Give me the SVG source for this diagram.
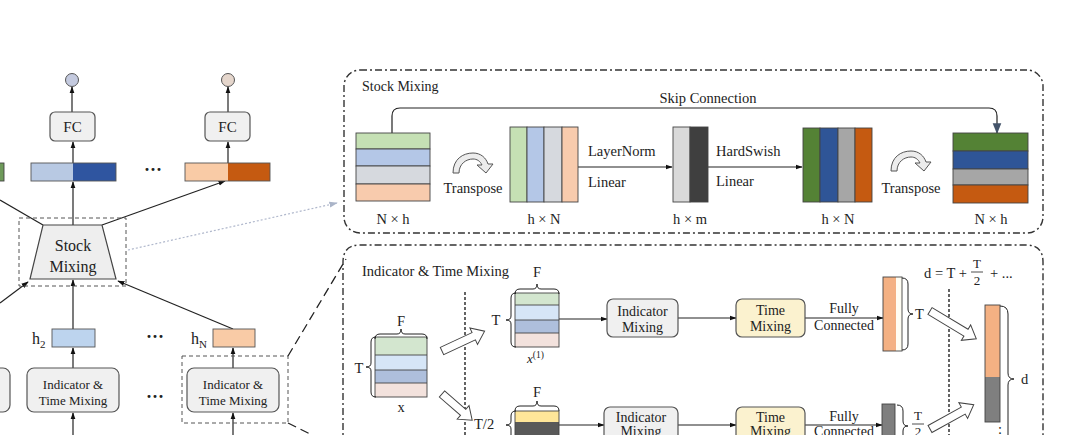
<svg xmlns="http://www.w3.org/2000/svg" width="1080" height="435" viewBox="0 0 1080 435">
<defs>
<style>
text{font-family:"Liberation Serif","Times New Roman",serif;fill:#222;font-size:14.5px;}
.c{text-anchor:middle;}
.box{fill:#f0f0f0;stroke:#555;stroke-width:1.2;}
.ln{stroke:#222;stroke-width:1.2;fill:none;}
.cell{stroke:#444;stroke-width:0.9;}
.hol{fill:#fff;stroke:#444;stroke-width:1;}
.br{fill:none;stroke:#222;stroke-width:1;}
.panel{fill:none;stroke:#333;stroke-width:1.4;stroke-dasharray:7 3 2 3;}
.vd{stroke:#111;stroke-width:1.3;stroke-dasharray:3 2;}
.dash{fill:none;stroke:#555;stroke-width:1;stroke-dasharray:4 3;}
</style>
<marker id="ah" viewBox="0 0 10 10" refX="9" refY="5" markerWidth="6" markerHeight="6" orient="auto"><path d="M0,1.5 L10,5 L0,8.5 Z" fill="#111"/></marker>
<marker id="ahb" viewBox="0 0 10 10" refX="9" refY="5" markerWidth="9" markerHeight="9" orient="auto"><path d="M0,1 L10,5 L0,9 Z" fill="#44546a"/></marker>
<marker id="ahg" viewBox="0 0 10 10" refX="9" refY="5" markerWidth="7" markerHeight="7" orient="auto"><path d="M0,1.5 L10,5 L0,8.5 Z" fill="#aab4c8"/></marker>
<path id="trans" d="M0,20 C0,6 10,0 20,0 C28,0 33,5 35,11 L40,11 L33,20 L24,12 L29,12 C27,8 24,6 20,6 C13,6 6,11 6,20 Z"/>
</defs>

<!-- connectors -->
<g id="connectors">
<line class="ln" x1="72" y1="112" x2="72" y2="87" marker-end="url(#ah)"/>
<line class="ln" x1="228" y1="112" x2="228" y2="87" marker-end="url(#ah)"/>
<line class="ln" x1="73" y1="225" x2="73" y2="182" marker-end="url(#ah)"/>
<line class="ln" x1="73" y1="163" x2="73" y2="142" marker-end="url(#ah)"/>
<line class="ln" x1="228" y1="163" x2="228" y2="142" marker-end="url(#ah)"/>
<line class="ln" x1="102" y1="225" x2="225" y2="181" marker-end="url(#ah)"/>
<line class="ln" x1="43" y1="225" x2="0" y2="200"/>
<line class="ln" x1="73" y1="329" x2="73" y2="280" marker-end="url(#ah)"/>
<line class="ln" x1="233" y1="329" x2="118" y2="281" marker-end="url(#ah)"/>
<line class="ln" x1="0" y1="303" x2="28" y2="282" marker-end="url(#ah)"/>
<line class="ln" x1="73" y1="368" x2="73" y2="348" marker-end="url(#ah)"/>
<line class="ln" x1="233" y1="368" x2="233" y2="348" marker-end="url(#ah)"/>
<line class="ln" x1="73" y1="435" x2="73" y2="413" marker-end="url(#ah)"/>
<line class="ln" x1="233" y1="435" x2="233" y2="413" marker-end="url(#ah)"/>
<line x1="128" y1="250" x2="337" y2="203" stroke="#b0b8cc" stroke-width="1.2" stroke-dasharray="2 2" marker-end="url(#ahg)"/>
<line x1="288" y1="356" x2="346" y2="259" stroke="#222" stroke-width="1.3" stroke-dasharray="9 5"/>
<line x1="288" y1="423" x2="312" y2="435" stroke="#222" stroke-width="1.3" stroke-dasharray="9 5"/>
<path class="ln" d="M392,133 V116 Q392,108 400,108 H989 Q997,108 997,116 V133" stroke="#444" marker-end="url(#ahb)"/>
<line class="ln" x1="578" y1="167" x2="672" y2="167" marker-end="url(#ah)"/>
<line class="ln" x1="708" y1="167" x2="802" y2="167" marker-end="url(#ah)"/>
<line class="ln" x1="559" y1="319" x2="607" y2="319" marker-end="url(#ah)"/>
<line class="ln" x1="678" y1="318" x2="736" y2="318" marker-end="url(#ah)"/>
<line class="ln" x1="805" y1="318" x2="883" y2="318" marker-end="url(#ah)"/>
<line class="ln" x1="559" y1="425" x2="604" y2="425" marker-end="url(#ah)"/>
<line class="ln" x1="678" y1="425" x2="736" y2="425" marker-end="url(#ah)"/>
<line class="ln" x1="805" y1="425" x2="882" y2="425" marker-end="url(#ah)"/>
</g>

<!-- left column -->
<g id="out1"><circle cx="72" cy="80" r="6.5" fill="#c4cadf" stroke="#555"/></g>
<g id="out2"><circle cx="228" cy="80" r="6.5" fill="#e5d6cc" stroke="#555"/></g>
<g id="fc1"><rect class="box" x="50" y="112" width="45" height="29" rx="5"/><text class="c" x="72.5" y="132" style="font-size:15px">FC</text></g>
<g id="fc2"><rect class="box" x="205" y="112" width="45" height="29" rx="5"/><text class="c" x="227.5" y="132" style="font-size:15px">FC</text></g>
<g id="bar0"><rect x="-2" y="163" width="6" height="18" fill="#6e9a5a" stroke="#444" stroke-width="0.9"/></g>
<g id="bar1"><rect x="31" y="163" width="42" height="18" fill="#b8c9e3"/><rect x="73" y="163" width="43" height="18" fill="#2f55a0"/><rect x="31" y="163" width="85" height="18" fill="none" stroke="#555" stroke-width="0.9"/></g>
<g id="bar2"><rect x="185" y="163" width="43" height="18" fill="#f9cba6"/><rect x="228" y="163" width="42" height="18" fill="#c55a11"/><rect x="185" y="163" width="85" height="18" fill="none" stroke="#555" stroke-width="0.9"/></g>
<g id="dots1"><text class="c" x="153" y="176" style="font-size:18px;font-weight:bold">···</text></g>
<g id="stockmix">
<rect class="dash" x="19" y="218" width="107" height="68"/>
<path d="M43,225 L102,225 L116,279 L30,279 Z" fill="#eeeeee" stroke="#444" stroke-width="1.2"/>
<text class="c" x="73" y="251" style="font-size:16px">Stock</text>
<text class="c" x="73" y="272" style="font-size:16px">Mixing</text>
</g>
<g id="h2"><rect x="52" y="329" width="43" height="18" fill="#bdd4ee" stroke="#555" stroke-width="0.9"/><text x="32" y="344" style="font-size:16px">h<tspan style="font-size:11px" dy="4">2</tspan></text></g>
<g id="hN"><rect x="213" y="329" width="42" height="18" fill="#f9cba6" stroke="#555" stroke-width="0.9"/><text x="191" y="344" style="font-size:16px">h<tspan style="font-size:11px" dy="4">N</tspan></text></g>
<g id="dots2"><text class="c" x="155" y="343" style="font-size:18px;font-weight:bold">···</text></g>
<g id="itm0"><rect class="box" x="-20" y="368" width="30" height="44" rx="7"/></g>
<g id="itm1"><rect class="box" x="27" y="368" width="92" height="44" rx="7"/><text class="c" x="73" y="389" style="font-size:13px">Indicator &amp;</text><text class="c" x="73" y="405" style="font-size:13px">Time Mixing</text></g>
<g id="itm2"><rect class="dash" x="182" y="356" width="106" height="67"/><rect class="box" x="187" y="368" width="92" height="44" rx="7"/><text class="c" x="233" y="389" style="font-size:13px">Indicator &amp;</text><text class="c" x="233" y="405" style="font-size:13px">Time Mixing</text></g>
<g id="dots3"><text class="c" x="155" y="403" style="font-size:18px;font-weight:bold">···</text></g>

<!-- Stock Mixing panel -->
<g id="panel-stock">
<rect class="panel" x="344" y="70" width="699" height="163" rx="16"/>
<text x="362" y="91" style="font-size:14px">Stock Mixing</text>
<text class="c" x="708" y="103">Skip Connection</text>
</g>
<g id="sm-b1">
<rect class="cell" x="356" y="133" width="74" height="16" fill="#c5e0b4"/>
<rect class="cell" x="356" y="149" width="74" height="17" fill="#b4c7e7"/>
<rect class="cell" x="356" y="166" width="74" height="18" fill="#d6d9de"/>
<rect class="cell" x="356" y="184" width="74" height="17" fill="#f8cbad"/>
<text class="c" x="393" y="224">N × h</text>
</g>
<g id="sm-t1"><use href="#trans" x="453" y="153" fill="#ececec" stroke="#555" stroke-width="1"/><text class="c" x="473" y="193">Transpose</text></g>
<g id="sm-b2">
<rect class="cell" x="510" y="127" width="17" height="75" fill="#c5e0b4"/>
<rect class="cell" x="527" y="127" width="17" height="75" fill="#b4c7e7"/>
<rect class="cell" x="544" y="127" width="18" height="75" fill="#d6d9de"/>
<rect class="cell" x="562" y="127" width="16" height="75" fill="#f8cbad"/>
<text class="c" x="544" y="224">h × N</text>
<text x="588" y="156">LayerNorm</text>
<text x="588" y="187">Linear</text>
</g>
<g id="sm-b3">
<rect class="cell" x="673" y="127" width="17" height="75" fill="#d9d9d9"/>
<rect class="cell" x="690" y="127" width="18" height="75" fill="#3f3f3f"/>
<text class="c" x="690" y="224">h × m</text>
<text x="716" y="156">HardSwish</text>
<text x="716" y="186">Linear</text>
</g>
<g id="sm-b4">
<rect class="cell" x="803" y="128" width="17" height="74" fill="#548235"/>
<rect class="cell" x="820" y="128" width="18" height="74" fill="#2f5597"/>
<rect class="cell" x="838" y="128" width="17" height="74" fill="#a6a6a6"/>
<rect class="cell" x="855" y="128" width="17" height="74" fill="#c55a11"/>
<text class="c" x="838" y="224">h × N</text>
</g>
<g id="sm-t2"><use href="#trans" x="891" y="151" fill="#ececec" stroke="#555" stroke-width="1"/><text class="c" x="911" y="193">Transpose</text></g>
<g id="sm-b5">
<rect class="cell" x="953" y="133" width="75" height="18" fill="#548235"/>
<rect class="cell" x="953" y="151" width="75" height="18" fill="#2f5597"/>
<rect class="cell" x="953" y="169" width="75" height="16" fill="#a6a6a6"/>
<rect class="cell" x="953" y="185" width="75" height="18" fill="#c55a11"/>
<text class="c" x="991" y="224">N × h</text>
</g>

<!-- Indicator & Time Mixing panel -->
<g id="panel-itm">
<path class="panel" d="M343,445 V262 Q343,245 360,245 H1026 Q1043,245 1043,262 V445"/>
<text x="362" y="276">Indicator &amp; Time Mixing</text>
<line class="vd" x1="465" y1="292" x2="465" y2="435"/>
<line class="vd" x1="949" y1="289" x2="949" y2="435"/>
<text x="924" y="278">d = T +</text>
<text class="c" x="977" y="268" style="font-size:13px">T</text>
<line x1="971" y1="272" x2="983" y2="272" stroke="#222" stroke-width="0.8"/>
<text class="c" x="977" y="285" style="font-size:13px">2</text>
<text x="990" y="278">+ ...</text>
</g>
<g id="x-in">
<rect x="375" y="337" width="52" height="18" fill="#d3e6cf"/>
<rect x="375" y="355" width="52" height="15" fill="#d6e6f7"/>
<rect x="375" y="370" width="52" height="13" fill="#aebfdc"/>
<rect x="375" y="383" width="52" height="14" fill="#f3e2dd"/>
<g stroke="#444" stroke-width="0.9" fill="none"><rect x="375" y="337" width="52" height="60"/><line x1="375" y1="355" x2="427" y2="355"/><line x1="375" y1="370" x2="427" y2="370"/><line x1="375" y1="383" x2="427" y2="383"/></g>
<path class="br" d="M375,339 Q375,334 380,334 L397,334 Q401,334 401,329 Q401,334 405,334 L422,334 Q427,334 427,339"/>
<text class="c" x="401" y="326">F</text>
<path class="br" d="M376,337 Q371,337 371,342 L371,363 Q371,367 366,367 Q371,367 371,371 L371,392 Q371,397 376,397"/>
<text class="c" x="359" y="373">T</text>
<text class="c" x="401" y="412">x</text>
</g>
<g id="harrows">
<path class="hol" transform="translate(442,351) rotate(-25)" d="M0,-4 L35,-4 L35,-9 L47,0 L35,9 L35,4 L0,4 Z"/>
<path class="hol" transform="translate(442,394) rotate(41)" d="M0,-4 L28,-4 L28,-9 L40,0 L28,9 L28,4 L0,4 Z"/>
<path class="hol" transform="translate(930,311) rotate(31)" d="M0,-4 L42,-4 L42,-9 L54,0 L42,9 L42,4 L0,4 Z"/>
<path class="hol" transform="translate(930,429) rotate(-29)" d="M0,-4 L38,-4 L38,-9 L50,0 L38,9 L38,4 L0,4 Z"/>
</g>
<g id="x1">
<rect x="515" y="293" width="44" height="12" fill="#d3e6cf"/>
<rect x="515" y="305" width="44" height="15" fill="#d6e6f7"/>
<rect x="515" y="320" width="44" height="13" fill="#aebfdc"/>
<rect x="515" y="333" width="44" height="14" fill="#f3e2dd"/>
<g stroke="#444" stroke-width="0.9" fill="none"><rect x="515" y="293" width="44" height="54"/><line x1="515" y1="305" x2="559" y2="305"/><line x1="515" y1="320" x2="559" y2="320"/><line x1="515" y1="333" x2="559" y2="333"/></g>
<path class="br" d="M515,294 Q515,289 520,289 L533,289 Q537,289 537,284 Q537,289 541,289 L554,289 Q559,289 559,294"/>
<text class="c" x="537" y="277">F</text>
<path class="br" d="M516,293 Q511,293 511,298 L511,316 Q511,320 506,320 Q511,320 511,324 L511,342 Q511,347 516,347"/>
<text class="c" x="496" y="325">T</text>
<text x="527" y="363" style="font-size:13px;font-style:italic">x<tspan style="font-size:9.5px;font-style:normal" dy="-5">(1)</tspan></text>
</g>
<g id="im1"><rect class="box" x="607" y="299" width="71" height="38" rx="6"/><text class="c" x="642.5" y="316" style="font-size:14px">Indicator</text><text class="c" x="642.5" y="332" style="font-size:14px">Mixing</text></g>
<g id="tm1"><rect x="736" y="299" width="69" height="38" rx="6" fill="#fbf2cf" stroke="#555" stroke-width="1.2"/><text class="c" x="770.5" y="315" style="font-size:14px">Time</text><text class="c" x="770.5" y="331" style="font-size:14px">Mixing</text></g>
<g id="fcl1"><text class="c" x="844" y="313" style="font-size:14px">Fully</text><text class="c" x="844" y="330" style="font-size:14px">Connected</text></g>
<g id="o1">
<rect x="883" y="277" width="13" height="74" fill="#f4b183"/><rect x="896" y="277" width="6" height="74" fill="#fffdf3"/>
<rect x="883" y="277" width="19" height="74" fill="none" stroke="#444" stroke-width="0.9"/>
<path class="br" d="M902,278 Q908,278 908,284 L908,309 Q908,314 913,314 Q908,314 908,319 L908,344 Q908,350 902,350"/>
<text x="915" y="319">T</text>
</g>
<g id="x2">
<rect x="515" y="411" width="44" height="11" fill="#ffe699"/>
<rect x="515" y="422" width="44" height="20" fill="#595959"/>
<rect x="515" y="411" width="44" height="31" fill="none" stroke="#444" stroke-width="0.9"/>
<path class="br" d="M515,411 Q515,406 520,406 L533,406 Q537,406 537,401 Q537,406 541,406 L554,406 Q559,406 559,411"/>
<text class="c" x="537" y="397">F</text>
<path class="br" d="M516,411 Q511,411 511,416 L511,421 Q511,425 506,425 Q511,425 511,429 L511,440"/>
<text x="474" y="429">T/2</text>
</g>
<g id="im2"><rect class="box" x="604" y="407" width="74" height="38" rx="6"/><text class="c" x="641" y="422" style="font-size:14px">Indicator</text><text class="c" x="641" y="436" style="font-size:14px">Mixing</text></g>
<g id="tm2"><rect x="736" y="407" width="69" height="38" rx="6" fill="#fbf2cf" stroke="#555" stroke-width="1.2"/><text class="c" x="770.5" y="422" style="font-size:14px">Time</text><text class="c" x="770.5" y="436" style="font-size:14px">Mixing</text></g>
<g id="fcl2"><text class="c" x="844" y="421" style="font-size:14px">Fully</text><text class="c" x="844" y="436" style="font-size:14px">Connected</text></g>
<g id="o2">
<rect x="882" y="404" width="13" height="40" fill="#7f7f7f" stroke="#444" stroke-width="0.9"/>
<path class="br" d="M897,405 Q903,405 903,411 L903,421 Q903,426 908,426 Q903,426 903,431 L903,440"/>
<text class="c" x="918" y="420" style="font-size:13px">T</text>
<line x1="912" y1="424" x2="924" y2="424" stroke="#222" stroke-width="0.8"/>
<text class="c" x="918" y="436" style="font-size:13px">2</text>
</g>
<g id="concat">
<rect x="985" y="305" width="15" height="72" fill="#f4b183"/>
<rect x="985" y="377" width="15" height="45" fill="#7f7f7f"/>
<rect x="985" y="305" width="15" height="117" fill="none" stroke="#444" stroke-width="0.9"/>
<path class="br" d="M1000,306 Q1008,306 1008,314 L1008,373 Q1008,379 1014,379 Q1008,379 1008,385 L1008,440"/>
<text x="1021" y="384">d</text>
<text class="c" x="1000" y="434">:</text>
</g>
</svg>
